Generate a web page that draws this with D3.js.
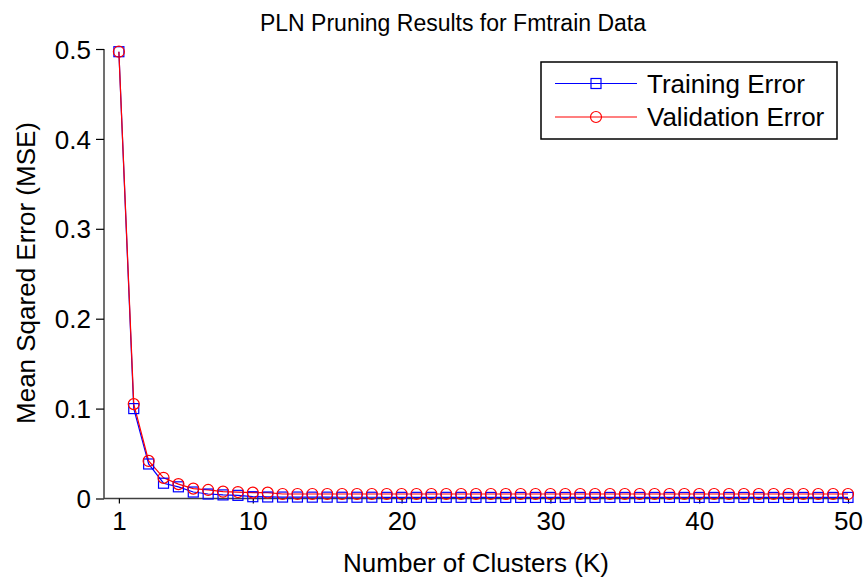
<!DOCTYPE html>
<html><head><meta charset="utf-8">
<script src="https://cdn.jsdelivr.net/npm/d3@7"></script>
<style>body{margin:0;background:#fff;} text{font-family:"Liberation Sans",Arial,sans-serif;}</style>
</head><body>
<svg id="c" width="864" height="579"></svg>
<script>
const clusters = d3.range(1, 51);
const trainingError = [0.497,0.100,0.0384,0.017,0.013,0.0072,0.005,0.004,0.0035,0.002,
  0.0017,0.0016,0.0016,0.0015,0.0015,0.0014,0.0014,0.0014,0.0013,0.0013,
  0.0013,0.0013,0.0013,0.0013,0.0012,0.0012,0.0012,0.0012,0.0012,0.0012,
  0.0012,0.0012,0.0012,0.0012,0.0012,0.0012,0.0012,0.0012,0.0012,0.0012,
  0.0012,0.0012,0.0012,0.0012,0.0012,0.0012,0.0012,0.0012,0.0012,0.0012];
const validationError = [0.497,0.105,0.0418,0.023,0.016,0.011,0.0095,0.0076,0.0072,0.0065,
  0.0065,0.005,0.005,0.005,0.005,0.005,0.005,0.005,0.005,0.005,
  0.005,0.005,0.005,0.005,0.005,0.005,0.005,0.005,0.005,0.005,
  0.005,0.005,0.005,0.005,0.005,0.005,0.005,0.005,0.005,0.005,
  0.005,0.005,0.005,0.005,0.005,0.005,0.005,0.005,0.005,0.005];
const xTicks = [1,10,20,30,40,50];
const yTicks = [0,0.1,0.2,0.3,0.4,0.5];
const seriesNames = ["Training Error","Validation Error"];
const seriesColors = ["#0000ff","#ff0000"];

const svg = d3.select("#c");
const x = d3.scaleLinear().domain([0,50]).range([104,848]);
const y = d3.scaleLinear().domain([0,0.5]).range([498.5,49]);
const axisColor = "#404040";

// axes
const gx = svg.append("g").attr("transform",`translate(0,${y(0)})`)
  .call(d3.axisBottom(x).tickValues(xTicks).tickSize(5).tickPadding(8).tickFormat(d3.format("d")));
const gy = svg.append("g").attr("transform",`translate(${x(0)},0)`)
  .call(d3.axisLeft(y).tickValues(yTicks).tickSize(8).tickPadding(5).tickFormat(d=>d===0?"0":d3.format(".1f")(d)));
[gx,gy].forEach(g=>{
  g.select(".domain").attr("stroke",axisColor).attr("stroke-width",1.5);
  g.selectAll(".tick line").attr("stroke","#000").attr("stroke-width",1.2);
  g.selectAll(".tick text").attr("fill","#000").style("font-size","26px").style("font-family","'Liberation Sans',Arial,sans-serif");
});
gx.select(".domain").attr("d",`M${x(0)},0H${x(50)}`);
gy.select(".domain").attr("d",`M0,${y(0.5)}V${y(0)}`);
gy.selectAll(".tick text").attr("dy","0.35em");

const data = [trainingError, validationError];
const line = d3.line().x((d,i)=>x(clusters[i])).y(d=>y(d));
data.forEach((vals,si)=>{
  svg.append("path").attr("d",line(vals)).attr("fill","none")
    .attr("stroke",seriesColors[si]).attr("stroke-width",1.2);
});
// markers
svg.append("g").selectAll("rect").data(trainingError).join("rect")
  .attr("x",(d,i)=>x(clusters[i])-5).attr("y",d=>y(d)-5).attr("width",10).attr("height",10)
  .attr("fill","none").attr("stroke",seriesColors[0]).attr("stroke-width",1.2);
svg.append("g").selectAll("circle").data(validationError).join("circle")
  .attr("cx",(d,i)=>x(clusters[i])).attr("cy",d=>y(d)).attr("r",5.5)
  .attr("fill","none").attr("stroke",seriesColors[1]).attr("stroke-width",1.2);

// labels
svg.append("text").attr("x",453).attr("y",31).attr("text-anchor","middle")
  .style("font-size","23px").text("PLN Pruning Results for Fmtrain Data");
svg.append("text").attr("x",476).attr("y",572).attr("text-anchor","middle")
  .style("font-size","26px").text("Number of Clusters (K)");
svg.append("text").attr("transform","translate(35,273) rotate(-90)").attr("text-anchor","middle")
  .style("font-size","26px").text("Mean Sqared Error (MSE)");

// legend
const lg = svg.append("g");
lg.append("rect").attr("x",541).attr("y",62).attr("width",296).attr("height",77)
  .attr("fill","#fff").attr("stroke","#000").attr("stroke-width",1.5);
const rows = [83.5,117];
seriesNames.forEach((n,i)=>{
  lg.append("line").attr("x1",555).attr("x2",637).attr("y1",rows[i]).attr("y2",rows[i])
    .attr("stroke",seriesColors[i]).attr("stroke-width",1.2);
  if(i===0) lg.append("rect").attr("x",591).attr("y",rows[i]-5).attr("width",10).attr("height",10)
    .attr("fill","none").attr("stroke",seriesColors[i]).attr("stroke-width",1.2);
  else lg.append("circle").attr("cx",596).attr("cy",rows[i]).attr("r",5.5)
    .attr("fill","none").attr("stroke",seriesColors[i]).attr("stroke-width",1.2);
  lg.append("text").attr("x",647).attr("y",rows[i]).attr("dy","0.35em")
    .style("font-size","26px").text(n);
});
</script>
</body></html>
